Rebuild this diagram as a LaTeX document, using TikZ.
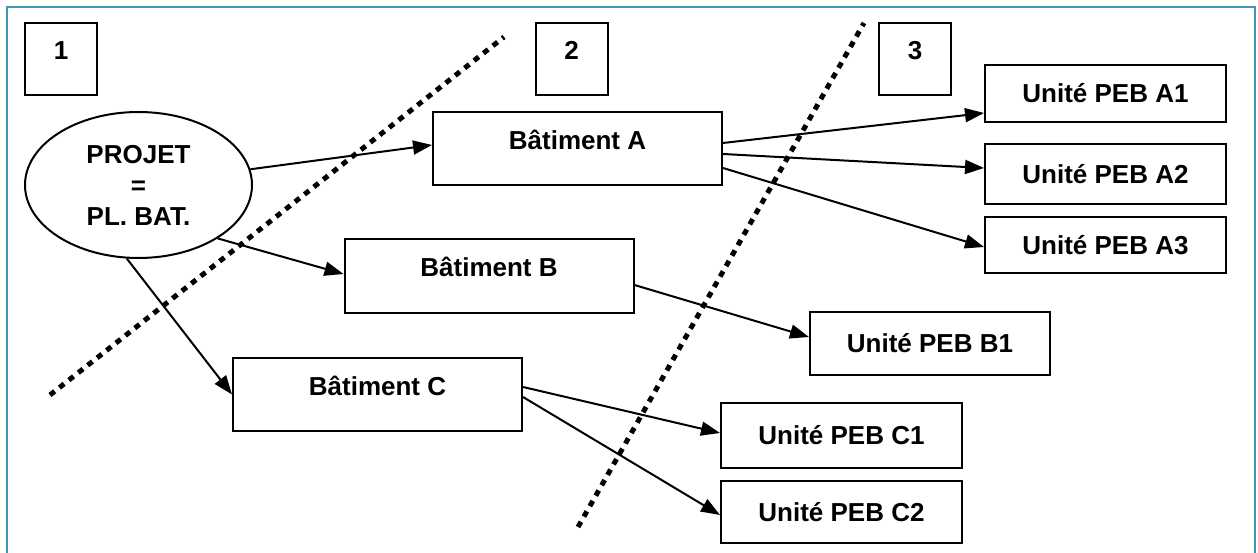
\documentclass[tikz,border=0pt]{standalone}
\usepackage{fontspec}
\setmainfont{Liberation Sans}
\usepackage{tikz}
\usetikzlibrary{arrows.meta}
\usetikzlibrary{shapes.geometric}

\definecolor{cadre}{RGB}{64,148,180}

\tikzset{
    boite/.style={draw, line width=2pt, inner sep=0pt, font=\bfseries\fontsize{26}{30}\selectfont},
    numero/.style={boite, minimum width=72pt, minimum height=72pt, text height=36.3pt, text depth=35.7pt},
    batiment/.style={boite, minimum width=289pt, minimum height=73pt, text height=37.3pt, text depth=35.7pt},
    unite/.style={boite, minimum width=241pt},
    fleche/.style={line width=2pt, -{Triangle[length=19pt,width=14pt]}},
    separation/.style={line width=5pt, dash pattern=on 6pt off 6pt},
}

\begin{document}
\begin{tikzpicture}[x=1pt, y=-1pt]
    \useasboundingbox (0,0) rectangle (1258,553);
    \fill[white] (0,0) rectangle (1258,553);

    % Frame (open at the bottom)
    \draw[cadre, line width=1.5pt] (7,570) -- (7,7) -- (1255,7) -- (1255,570);

    % Separating dotted lines
    \coordinate (s1a) at (50,395);
    \coordinate (s1b) at (504,37);
    \coordinate (s2a) at (578,527);
    \coordinate (s2b) at (864,23);
    \draw[separation] (s1a) -- (s1b);
    \draw[separation] (s2a) -- (s2b);

    % Level numbers
    \node[numero] (n1) at (61,59) {1};
    \node[numero] (n2) at (571.5,59) {2};
    \node[numero] (n3) at (915,59) {3};

    % Project
    \node[boite, ellipse, minimum width=227pt, minimum height=146pt, align=center] (projet) at (138.5,185)
        {PROJET\\[1pt]=\\[1pt]PL. BAT.};

    % Buildings
    \node[batiment] (batA) at (577.5,148.5) {Bâtiment A};
    \node[batiment] (batB) at (489,276) {Bâtiment B};
    \node[batiment] (batC) at (377.5,394.5) {Bâtiment C};

    % PEB units
    \node[unite, minimum height=57pt] (uA1) at (1105.5,93.5) {Unité PEB A1};
    \node[unite, minimum height=60pt] (uA2) at (1105.5,174) {Unité PEB A2};
    \node[unite, minimum height=56pt] (uA3) at (1105.5,245) {Unité PEB A3};
    \node[unite, minimum width=240pt, minimum height=63pt] (uB1) at (930,343.5) {Unité PEB B1};
    \node[unite, minimum height=65pt] (uC1) at (841.5,435.5) {Unité PEB C1};
    \node[unite, minimum height=62pt] (uC2) at (841.5,512) {Unité PEB C2};

    % Project -> buildings
    \draw[fleche] (projet.8) -- ([yshift=3.5pt]batA.west);
    \draw[fleche] (projet.-34) -- ([yshift=2pt]batB.west);
    \draw[fleche] (projet.-99) -- (batC.west);

    % Buildings -> units
    \draw[fleche] ([yshift=5.5pt]batA.east) -- ([yshift=-19.5pt]uA1.west);
    \draw[fleche] ([yshift=-5.5pt]batA.east) -- ([yshift=6pt]uA2.west);
    \draw[fleche] ([yshift=-19.5pt]batA.east) -- ([yshift=-2pt]uA3.west);
    \draw[fleche] ([yshift=-9pt]batB.east) -- ([yshift=6.5pt]uB1.west);
    \draw[fleche] ([yshift=7.5pt]batC.east) -- ([yshift=2.5pt]uC1.west);
    \draw[fleche] ([yshift=-2.5pt]batC.east) -- ([yshift=-3pt]uC2.west);
\end{tikzpicture}
\end{document}
